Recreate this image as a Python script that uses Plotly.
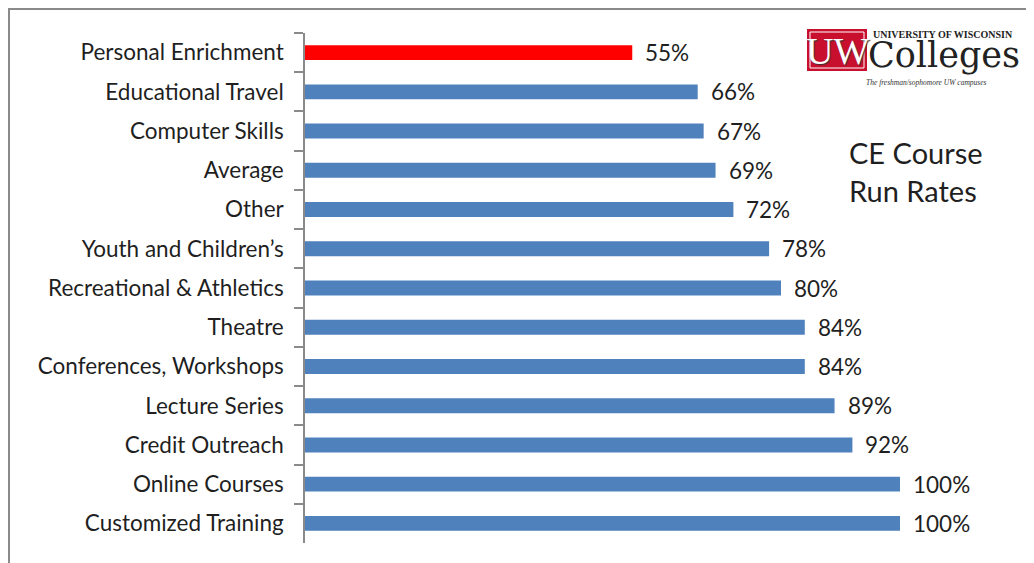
import plotly.graph_objects as go

categories = ["Personal Enrichment", "Educational Travel", "Computer Skills", "Average", "Other",
              "Youth and Children\u2019s", "Recreational & Athletics", "Theatre",
              "Conferences, Workshops", "Lecture Series", "Credit Outreach",
              "Online Courses", "Customized Training"]
run_rates = [55, 66, 67, 69, 72, 78, 80, 84, 84, 89, 92, 100, 100]
bar_colors = ["#FF0000"] + ["#4F81BD"] * 12
title_text = "CE Course<br>Run Rates"

OFF = 8  # page body margin
W, H = 1034 - OFF, 563 - OFF
L, R, T, B = 305 - OFF, 900 - OFF, 33 - OFF, 543 - OFF

def px(x):  # page pixel -> paper
    return (x - OFF - L) / (R - L)

def py(y):
    return (B - (y - OFF)) / (B - T)

FONT = "Lato"
TXT = "#1f1f1f"

fig = go.Figure(go.Bar(
    x=run_rates, y=categories, orientation="h",
    marker=dict(color=bar_colors, line=dict(width=0)),
    hoverinfo="skip",
))

annotations = []
for c, v in zip(categories, run_rates):
    annotations.append(dict(x=v, y=c, xref="x", yref="y", text=f"{v}%", showarrow=False,
                            xanchor="left", yanchor="middle", xshift=11,
                            font=dict(family=FONT, size=22.5, color=TXT)))

annotations.append(dict(x=px(847), y=py(171), xref="paper", yref="paper", text=title_text,
                        showarrow=False, xanchor="left", yanchor="middle", align="left",
                        font=dict(family=FONT, size=29, color=TXT)))

# logo texts
annotations += [
    dict(x=px(837), y=py(51), xref="paper", yref="paper", text="UW", showarrow=False,
         xanchor="center", yanchor="middle",
         font=dict(family="Liberation Serif", size=38, color="white",
                   shadow="1px 1px 1px #333")),
    dict(x=px(871), y=py(35), xref="paper", yref="paper", text="<b>UNIVERSITY OF WISCONSIN</b>",
         showarrow=False, xanchor="left", yanchor="middle",
         font=dict(family="Liberation Serif", size=10, color="#222")),
    dict(x=px(866), y=py(55), xref="paper", yref="paper", text="Colleges",
         showarrow=False, xanchor="left", yanchor="middle",
         font=dict(family="DejaVu Serif", size=35, color="#222")),
    dict(x=px(926), y=py(82), xref="paper", yref="paper",
         text="<i>The freshman/sophomore UW campuses</i>",
         showarrow=False, xanchor="center", yanchor="middle",
         font=dict(family="Liberation Serif", size=7.5, color="#333")),
]

shapes = [
    dict(type="rect", xref="paper", yref="paper", x0=px(9), x1=px(1060), y0=py(9), y1=py(590),
         line=dict(color="#8a8a8a", width=2), fillcolor="rgba(0,0,0,0)", layer="below"),
    dict(type="rect", xref="paper", yref="paper", x0=px(807), x1=px(867), y0=py(29), y1=py(71),
         line=dict(width=0), fillcolor="#C8102E", layer="above"),
    dict(type="rect", xref="paper", yref="paper", x0=px(810), x1=px(864), y0=py(32), y1=py(68),
         line=dict(color="white", width=1), fillcolor="rgba(0,0,0,0)", layer="above"),
]

fig.update_layout(
    width=W, height=H,
    margin=dict(l=L, r=W - R, t=T, b=H - B, pad=0),
    paper_bgcolor="white", plot_bgcolor="white",
    bargap=0.62, showlegend=False,
    xaxis=dict(range=[0, 100], visible=False, fixedrange=True),
    yaxis=dict(categoryorder="array", categoryarray=categories, autorange="reversed",
               showline=True, linecolor="#8a8a8a", linewidth=1.5,
               ticks="outside", ticklen=9, tickcolor="#8a8a8a", tickwidth=1.5,
               tickson="boundaries", showgrid=False, zeroline=False,
               ticklabelstandoff=15,
               tickfont=dict(family=FONT, size=22.5, color=TXT)),
    annotations=annotations, shapes=shapes,
)

fig.write_html("out.html")
